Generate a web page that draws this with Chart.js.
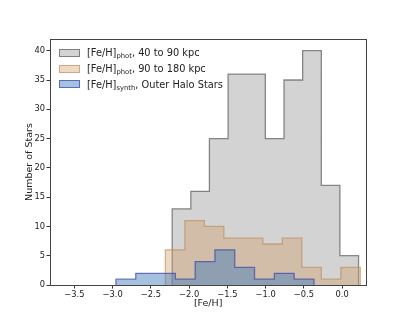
<!DOCTYPE html>
<html>
<head>
<meta charset="utf-8">
<script src="https://cdn.jsdelivr.net/npm/chart.js@4.4.1/dist/chart.umd.min.js"></script>
<style>
  html, body { margin: 0; padding: 0; background: #fff; }
  #wrap { position: relative; width: 407px; height: 326px; }
  #legend { position: absolute; left: 59px; top: 45px; font-family: 'DejaVu Sans', sans-serif; font-size: 9.8px; color: #222; }
  #legend .row { display: flex; align-items: center; height: 15.7px; white-space: nowrap; }
  #legend .box { width: 19px; height: 6px; border: 1px solid; margin-right: 7px; }
  #legend sub { font-size: 6.8px; vertical-align: -2px; line-height: 0; }
</style>
</head>
<body>
<div id="wrap">
  <canvas id="histChart" width="407" height="326"></canvas>
  <div id="legend"></div>
</div>
<script>
// bin edges and counts
const grayEdges = [-2.222, -1.978, -1.735, -1.491, -1.247, -1.004, -0.760, -0.516, -0.272, -0.029, 0.215];
const grayCounts = [13, 16, 25, 36, 36, 25, 35, 40, 17, 5];
const tanEdges = [-2.311, -2.056, -1.801, -1.546, -1.292, -1.037, -0.782, -0.527, -0.272, -0.017, 0.238];
const tanCounts = [6, 11, 10, 8, 8, 7, 8, 3, 1, 3];
const blueEdges = [-2.957, -2.698, -2.439, -2.180, -1.921, -1.663, -1.404, -1.145, -0.886, -0.627, -0.368];
const blueCounts = [1, 2, 2, 1, 4, 6, 3, 1, 2, 1];

const xTicks = [-3.5, -3.0, -2.5, -2.0, -1.5, -1.0, -0.5, 0.0];
const yTicks = [0, 5, 10, 15, 20, 25, 30, 35, 40];

const legendParts = [
  ['[Fe/H]', 'phot', ', 40 to 90 kpc'],
  ['[Fe/H]', 'phot', ', 90 to 180 kpc'],
  ['[Fe/H]', 'synth', ', Outer Halo Stars']
];

// turn edges + counts into the outline of a step histogram
function stepPoints(edges, counts) {
  const pts = [{ x: edges[0], y: 0 }];
  counts.forEach(function(c, i) { pts.push({ x: edges[i], y: c }); });
  const last = edges[edges.length - 1];
  pts.push({ x: last, y: counts[counts.length - 1] });
  pts.push({ x: last, y: 0 });
  return pts;
}

function histDataset(parts, edges, counts, fill, edge, order) {
  return {
    label: parts.join(''),
    data: stepPoints(edges, counts),
    stepped: true,
    fill: 'origin',
    backgroundColor: fill,
    borderColor: edge,
    borderWidth: 1.3,
    pointRadius: 0,
    order: order
  };
}

const fontFamily = "'DejaVu Sans', sans-serif";

const frame = {
  id: 'frame',
  afterDatasetsDraw(chart) {
    const a = chart.chartArea;
    const ctx = chart.ctx;
    ctx.save();
    ctx.strokeStyle = '#444';
    ctx.lineWidth = 1;
    ctx.strokeRect(Math.round(a.left) + 0.5, Math.round(a.top) + 0.5,
      Math.round(a.right - a.left), Math.round(a.bottom - a.top));
    ctx.restore();
  }
};

document.addEventListener('DOMContentLoaded', function() {
  const ctx = document.getElementById('histChart').getContext('2d');

  const datasets = [
    histDataset(legendParts[0], grayEdges, grayCounts, 'rgba(128,128,128,0.35)', 'rgba(90,90,90,0.7)', 3),
    histDataset(legendParts[1], tanEdges, tanCounts, 'rgba(210,158,100,0.38)', 'rgba(185,135,85,0.6)', 2),
    histDataset(legendParts[2], blueEdges, blueCounts, 'rgba(70,125,188,0.48)', 'rgba(60,70,170,0.7)', 1)
  ];

  const chart = new Chart(ctx, {
    type: 'line',
    data: { datasets: datasets },
    options: {
      responsive: false,
      animation: false,
      events: [],
      layout: { padding: { left: 0, top: 39, right: 40.7, bottom: 0 } },
      plugins: {
        legend: { display: false },
        tooltip: { enabled: false },
        filler: { drawTime: 'beforeDatasetDraw' }
      },
      scales: {
        x: {
          type: 'linear',
          min: -3.819,
          max: 0.316,
          border: { display: false },
          grid: { drawOnChartArea: false, drawTicks: true, tickLength: 3.5, tickColor: '#333', tickWidth: 1 },
          ticks: {
            padding: 1.5,
            color: '#222',
            font: { family: fontFamily, size: 8.3 },
            maxRotation: 0,
            callback: function(v) { return v.toFixed(1).replace('-', '\u2212'); }
          },
          afterBuildTicks: function(scale) { scale.ticks = xTicks.map(function(v) { return { value: v }; }); },
          afterFit: function(scale) { scale.height = 41; },
          title: {
            display: true,
            text: '[Fe/H]',
            color: '#222',
            font: { family: fontFamily, size: 9.5 },
            padding: { top: 0, bottom: 16.3 }
          }
        },
        y: {
          type: 'linear',
          min: 0,
          max: 42,
          border: { display: false },
          grid: { drawOnChartArea: false, drawTicks: true, tickLength: 3.5, tickColor: '#333', tickWidth: 1 },
          ticks: {
            padding: 1.5,
            color: '#222',
            font: { family: fontFamily, size: 8.3 }
          },
          afterBuildTicks: function(scale) { scale.ticks = yTicks.map(function(v) { return { value: v }; }); },
          afterFit: function(scale) { scale.width = 50; },
          title: {
            display: true,
            text: 'Number of Stars',
            color: '#222',
            font: { family: fontFamily, size: 9.5 },
            padding: { top: 24.3, bottom: 0 }
          }
        }
      }
    },
    plugins: [frame]
  });

  // legend with subscripts, built from the datasets
  const legend = document.getElementById('legend');
  chart.data.datasets.forEach(function(ds, i) {
    const parts = legendParts[i];
    const row = document.createElement('div');
    row.className = 'row';
    const box = document.createElement('span');
    box.className = 'box';
    box.style.background = ds.backgroundColor;
    box.style.borderColor = ds.borderColor;
    const txt = document.createElement('span');
    txt.innerHTML = parts[0] + '<sub>' + parts[1] + '</sub>' + parts[2];
    row.appendChild(box);
    row.appendChild(txt);
    legend.appendChild(row);
  });
});
</script>
</body>
</html>
